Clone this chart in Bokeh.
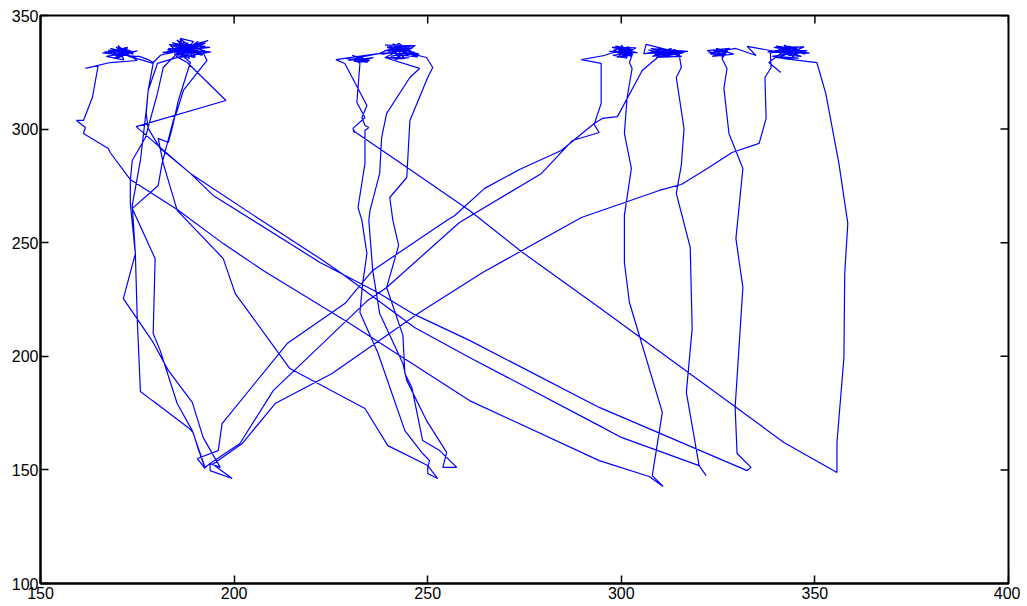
import math
from bokeh.plotting import figure
from bokeh.models import FixedTicker, Range1d
from bokeh.embed import file_html
from bokeh.resources import INLINE

# ---------------- trajectory data (x, y) ----------------
r4_tail_x = [341.2, 338.1, 341.5, 332.5, 334.8, 329.6]
r4_tail_y = [324.9, 329.3, 333.7, 336.4, 332.4, 335.5]

c7_x = [322.5, 327.5, 323.5, 329.0, 324.5, 326.5, 322.2, 328.0, 325.0, 327.0, 323.0, 326.0,
        324.8, 326.4, 323.8, 325.8, 324.2, 327.2]
c7_y = [333.5, 334.5, 332.0, 333.0, 335.5, 331.8, 334.5, 335.5, 332.5, 333.0, 333.0, 335.0,
        333.8, 332.6, 334.6, 334.8, 332.4, 334.0]

r3_x = [326.0, 327.3, 326.5, 327.8, 331.4, 329.6, 331.4, 329.4, 329.9, 333.5, 332.5]
r3_y = [331.1, 326.7, 317.9, 298.1, 282.7, 251.8, 230.3, 177.5, 157.2, 151.1, 149.7]

la_x = [294.3, 260.8, 246.1, 237.1, 222.2, 194.6, 188.7, 174.7, 197.9, 187.9]
la_y = [177.5, 207.0, 218.8, 228.1, 241.3, 270.8, 280.5, 301.1, 312.6, 329.3]

c2a_x = [185.0, 191.0, 182.5, 189.0, 186.5, 192.5, 184.5, 190.0, 187.0,
         186.0, 189.5, 187.2, 188.8, 185.6, 190.2]
c2a_y = [332.0, 337.5, 334.0, 335.0, 337.0, 334.5, 333.0, 332.0, 338.5,
         334.5, 336.2, 333.2, 337.2, 336.0, 334.0]

lc_x = [180.2, 177.8, 177.3, 175.8, 173.7, 174.5, 171.4, 179.1, 183.0, 189.2, 192.0, 196.4]
lc_y = [328.9, 317.0, 308.2, 286.2, 266.4, 245.2, 225.4, 206.1, 193.8, 179.7, 164.3, 151.1]

bot1_x = [193.8, 193.8, 199.5, 194.5]
bot1_y = [152.8, 149.7, 146.2, 152.5]

u3_x = [202.1, 210.6, 225.3, 247.9, 264.2, 289.7, 309.8, 315.5, 321.4, 328.6, 335.6, 337.4, 337.1, 338.7]
u3_y = [161.6, 179.2, 192.4, 219.3, 236.9, 261.1, 273.0, 275.6, 281.8, 289.7, 293.7, 304.7, 322.7, 327.1]

c8_x = [338.5, 346.0, 340.0, 347.5, 342.0, 344.5, 339.0, 348.0, 341.0, 345.0, 343.0, 346.5, 340.5, 344.0, 342.5,
        342.2, 344.6, 341.6, 345.4, 343.4, 340.4, 344.2, 346.2, 342.6, 343.8,
        337.8, 348.6, 339.4, 347.2, 341.0, 345.8]
c8_y = [333.5, 335.0, 336.5, 333.0, 337.0, 331.5, 332.0, 334.5, 334.5, 336.0, 332.5, 332.0, 335.0, 334.0, 336.0,
        334.8, 333.2, 333.4, 335.4, 336.4, 334.6, 332.4, 333.6, 333.0, 335.4,
        334.0, 333.4, 336.0, 336.2, 331.8, 331.2]

r4_x = [340.0, 341.5, 350.5, 352.8, 356.2, 358.5, 357.7, 357.5, 355.7, 355.7]
r4_y = [331.5, 331.1, 329.3, 315.7, 284.9, 258.5, 236.4, 199.5, 162.1, 148.9]

l4_x = [342.0, 294.3, 274.5, 260.8, 242.8, 230.7, 231.2]
l4_y = [162.1, 221.5, 245.7, 264.2, 285.3, 299.4, 298.5]

m2_x = [230.7, 233.8, 231.7, 232.5]
m2_y = [300.3, 305.1, 311.7, 328.9]

c3_x = [231.5, 234.0, 232.2, 233.8, 230.8,
        229.0, 235.0, 230.5, 234.5, 231.0, 233.5, 229.5, 236.0, 232.0, 233.0, 237.6]
c3_y = [331.2, 330.4, 332.0, 329.6, 330.8,
        331.0, 330.0, 332.5, 329.5, 329.8, 332.0, 330.2, 331.5, 329.2, 331.8, 333.3]

c4a_x = [238.5, 246.0, 239.5, 247.0, 241.0, 244.0, 239.0, 245.5, 242.0, 243.5, 238.8,
         242.0, 244.5, 241.2, 243.8, 245.8, 242.6,
         237.8, 247.8, 239.0, 246.8, 241.4, 245.2]
c4a_y = [333.0, 335.5, 336.0, 332.5, 337.5, 331.0, 331.5, 337.0, 330.5, 336.5, 334.5,
         334.5, 335.8, 333.4, 332.2, 334.2, 336.6,
         333.6, 333.0, 337.0, 336.8, 330.8, 331.4]

m3_x = [238.9, 247.9, 245.4, 239.4, 238.1, 237.6, 235.1, 234.8, 235.8, 237.6, 243.6, 244.6, 249.7, 254.9, 253.9, 257.5]
m3_y = [331.5, 326.7, 322.7, 306.9, 296.3, 280.5, 264.2, 259.8, 237.8, 218.8, 196.8, 189.3, 171.7, 157.7, 151.1, 151.1]

m4_x = [253.1, 248.7, 245.9, 244.1, 243.6, 239.4, 242.5, 241.0, 240.2, 244.6, 245.4, 250.0, 251.3, 249.7]
m4_y = [158.5, 162.9, 186.3, 192.4, 209.2, 230.3, 248.8, 259.8, 269.9, 278.7, 303.8, 322.7, 327.1, 331.5]

c4b_x = [240.8, 244.2, 243.2, 246.2, 241.8, 244.8,
         246.5, 240.5, 244.5, 241.5, 247.5, 243.0, 240.0, 245.0, 242.5, 239.5, 237.6, 226.3, 228.6]
c4b_y = [335.2, 334.6, 333.0, 336.2, 336.8, 332.6,
         334.0, 332.0, 333.8, 335.5, 331.8, 332.5, 334.8, 335.0, 337.8, 333.2, 333.3, 330.6, 328.9]

m1_x = [234.3, 233.0, 233.8, 234.8, 233.8, 233.8, 232.0, 233.0, 234.3, 233.2, 232.5, 237.1, 244.1, 248.7, 250.5, 250.0, 250.0, 252.6]
m1_y = [310.4, 305.1, 301.6, 300.7, 299.4, 284.9, 265.5, 259.8, 245.2, 232.0, 219.3, 201.7, 167.3, 157.2, 154.1, 151.1, 148.4, 146.2]

le_x = [250.0, 239.7, 233.8, 214.4, 200.3, 197.2, 185.3, 181.7, 180.4, 183.0, 184.0, 185.6, 188.7]
le_y = [151.9, 160.7, 177.0, 194.6, 227.6, 243.0, 264.2, 284.9, 295.9, 294.1, 300.3, 312.6, 329.3]

c2b_x = [183.5, 191.5, 185.5, 193.3, 188.0, 184.0, 194.0, 186.0, 189.5, 186.1, 190.5,
         187.8, 186.5, 189.0, 184.8, 191.2, 187.0]
c2b_y = [336.8, 335.5, 334.0, 339.0, 336.5, 335.0, 334.0, 331.5, 338.5, 339.9, 333.0,
         338.0, 332.8, 335.6, 334.4, 336.8, 336.4]

la2_x = [181.7, 180.2, 177.1, 173.7, 173.2, 173.2, 174.5, 175.0, 175.8, 178.9, 188.1, 189.4, 190.7, 192.5]
la2_y = [327.1, 315.7, 296.3, 286.2, 277.4, 267.3, 245.2, 215.8, 184.5, 180.5, 168.7, 166.5, 159.4, 150.6]

u1_x = [190.5, 195.9, 196.9, 213.7, 228.6, 235.8, 254.9, 257.0, 264.7, 273.7, 284.5, 293.0, 295.1, 299.0, 305.4, 310.6]
u1_y = [155.0, 158.5, 170.4, 205.6, 223.2, 237.8, 259.8, 262.0, 273.9, 282.2, 290.6, 302.5, 304.7, 305.5, 325.8, 333.3]

c6_x = [306.5, 314.0, 308.0, 316.5, 309.5, 312.0, 307.0, 315.0, 310.5, 313.0, 308.5, 316.0, 311.0, 313.5,
        310.0, 312.5, 309.2, 313.8, 311.4, 308.8, 312.8, 310.4, 314.6,
        306.4, 305.8, 317.2, 307.6, 315.6, 309.0]
c6_y = [333.5, 335.0, 332.0, 334.0, 335.5, 331.5, 334.8, 332.5, 334.0, 335.5, 333.0, 333.5, 332.0, 333.8,
        334.2, 333.0, 332.6, 334.6, 335.0, 334.0, 332.2, 333.2, 333.8,
        337.3, 333.2, 334.2, 335.4, 332.0, 331.6]

r2_x = [314.9, 315.5, 314.2, 316.2, 315.5, 314.2, 317.8, 318.3, 316.8, 320.1, 321.9]
r2_y = [333.3, 327.1, 322.7, 300.3, 284.0, 271.7, 247.9, 212.2, 184.1, 151.9, 147.5]

lb_x = [320.1, 300.0, 294.3, 260.8, 246.6, 227.8, 222.2, 205.9, 188.7, 180.9, 177.8, 177.3, 177.8, 179.1, 175.0]
lb_y = [151.9, 164.3, 169.5, 199.5, 212.7, 236.4, 243.0, 261.1, 280.5, 291.5, 300.3, 306.9, 317.0, 328.9, 331.0]

c1a_x = [169.5, 172.0, 170.2, 171.2, 168.8, 172.8, 170.0, 171.8,
         174.0, 168.0, 173.5, 170.0, 171.5, 167.0, 175.0, 169.0, 172.5, 166.0, 174.5, 175.5, 177.8, 179.1, 181.0]
c1a_y = [334.2, 332.8, 335.8, 332.0, 333.6, 334.6, 331.2, 335.2,
         333.0, 335.5, 331.5, 336.8, 330.5, 332.0, 334.5, 331.0, 336.0, 333.5, 332.0, 332.0, 330.6, 329.3, 332.5]

c2c_x = [182.0, 190.5, 184.0, 192.0, 186.0, 188.5, 183.0, 191.0, 187.5, 185.0, 192.5,
         188.4, 185.9, 190.8, 186.8, 189.4,
         181.5, 193.8, 183.2, 191.8, 185.2, 189.8, 182.8, 192.6, 186.4, 190.6]
c2c_y = [333.0, 336.0, 338.0, 333.0, 339.5, 331.0, 335.5, 334.0, 336.0, 337.5, 336.5,
         333.6, 337.6, 335.2, 335.0, 334.2,
         333.8, 336.0, 337.2, 332.4, 339.2, 331.4, 335.0, 337.8, 333.4, 338.6]

lbd_x = [193.0, 186.9, 185.3, 184.3, 181.4, 180.4, 178.4, 173.7, 179.6, 179.1, 180.9, 185.3, 189.2, 192.5]
lbd_y = [330.2, 317.0, 308.2, 303.8, 284.9, 275.2, 272.1, 265.1, 243.0, 210.0, 202.6, 179.2, 167.3, 151.1]

u2_x = [193.8, 201.5, 210.1, 234.5, 239.4, 258.2, 279.4, 287.4, 294.3, 293.0, 294.8, 294.8, 289.7, 295.6]
u2_y = [152.8, 161.6, 184.9, 224.6, 230.3, 258.9, 280.5, 295.0, 298.5, 302.0, 311.3, 328.9, 330.6, 332.4]

c5_x = [297.5, 303.0, 298.5, 302.5, 300.0, 301.5, 297.8, 303.5, 299.0, 302.0, 298.0, 301.0, 299.5, 303.0, 300.5,
        299.5, 301.8, 300.2, 301.2, 298.8, 302.2, 300.8, 299.2, 301.6,
        296.8, 304.2, 297.6, 303.8, 299.8, 302.8]
c5_y = [333.5, 335.0, 336.5, 332.0, 337.0, 331.2, 332.5, 334.0, 331.5, 336.2, 334.8, 333.0, 335.5, 333.0, 332.0,
        334.6, 333.4, 335.8, 332.4, 333.8, 335.4, 333.2, 335.0, 334.2,
        334.2, 333.6, 336.0, 335.8, 331.6, 332.6]

r1_x = [302.1, 302.8, 301.5, 300.8, 302.6, 300.8, 300.8, 302.1, 310.6, 308.0, 310.8]
r1_y = [329.3, 326.7, 313.9, 298.1, 282.7, 262.0, 241.3, 223.7, 175.3, 147.5, 142.7]

l3_x = [307.2, 294.3, 260.8, 229.9, 207.5, 197.2, 185.3, 178.4, 173.2, 168.0, 167.5, 161.1, 161.6, 159.3, 161.1, 163.4, 164.9, 161.6, 168.0, 175.0]
l3_y = [147.1, 154.1, 180.5, 214.4, 237.8, 249.6, 264.6, 272.1, 277.8, 289.7, 291.5, 298.1, 300.7, 303.8, 303.8, 313.9, 328.0, 326.7, 329.3, 330.2]

c1b_x = [170.5, 168.5, 173.0, 171.0, 167.5, 172.0, 169.5, 174.0, 166.5, 170.0, 172.5, 168.0,
         169.0, 173.5, 167.8, 171.4, 170.6, 169.8, 172.2]
c1b_y = [335.0, 332.5, 334.8, 331.8, 334.8, 333.2, 336.0, 334.0, 334.0, 332.2, 335.5, 333.8,
         332.6, 333.4, 334.2, 333.8, 332.4, 335.2, 333.9]

order_x = [r4_tail_x, c7_x, r3_x, la_x, c2a_x, lc_x, bot1_x, u3_x, c8_x, r4_x, l4_x, m2_x,
           c3_x, c4a_x, m3_x, m4_x, c4b_x, m1_x, le_x, c2b_x, la2_x, u1_x, c6_x, r2_x,
           lb_x, c1a_x, c2c_x, lbd_x, u2_x, c5_x, r1_x, l3_x, c1b_x]
order_y = [r4_tail_y, c7_y, r3_y, la_y, c2a_y, lc_y, bot1_y, u3_y, c8_y, r4_y, l4_y, m2_y,
           c3_y, c4a_y, m3_y, m4_y, c4b_y, m1_y, le_y, c2b_y, la2_y, u1_y, c6_y, r2_y,
           lb_y, c1a_y, c2c_y, lbd_y, u2_y, c5_y, r1_y, l3_y, c1b_y]

track_x, track_y = [], []
for sx, sy in zip(order_x, order_y):
    track_x += sx
    track_y += sy

x_ticks = [150, 200, 250, 300, 350, 400]
y_ticks = [100, 150, 200, 250, 300, 350]

# ---------------- figure ----------------
p = figure(width=1020, height=604, x_range=Range1d(x_ticks[0], x_ticks[-1]),
           y_range=Range1d(y_ticks[0], y_ticks[-1]),
           output_backend="svg", toolbar_location=None,
           min_border_left=40, min_border_right=12, min_border_top=15, min_border_bottom=21)
p.grid.visible = False
p.background_fill_color = "white"
p.border_fill_color = "white"
p.outline_line_color = "black"
p.outline_line_width = 2

p.line(track_x, track_y, line_color="#0000ff", line_width=1.2)

# inner ticks on the top and right edges of the box
p.scatter(x=x_ticks, y=[y_ticks[-1]] * len(x_ticks), marker="dash", size=16,
          angle=math.pi / 2, line_color="black", line_width=1.5)
p.scatter(x=[x_ticks[-1]] * len(y_ticks), y=y_ticks, marker="dash", size=16,
          angle=0, line_color="black", line_width=1.5)

p.xaxis.ticker = FixedTicker(ticks=x_ticks)
p.yaxis.ticker = FixedTicker(ticks=y_ticks)

for ax in p.axis:
    ax.major_tick_in = 8
    ax.major_tick_out = 0
    ax.minor_tick_in = 0
    ax.minor_tick_out = 0
    ax.major_tick_line_color = "black"
    ax.major_tick_line_width = 1.5
    ax.axis_line_color = "black"
    ax.axis_line_width = 2
    ax.major_label_text_font = "Liberation Sans"
    ax.major_label_text_font_size = "16px"
    ax.major_label_text_color = "black"

p.xaxis.major_label_standoff = 3
p.yaxis.major_label_standoff = 2

open("out.html", "w").write(file_html(p, INLINE))
